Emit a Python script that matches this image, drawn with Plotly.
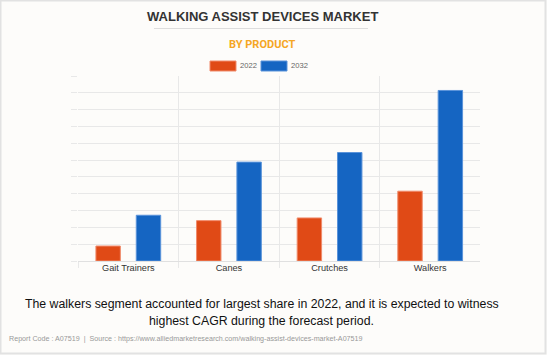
import plotly.graph_objects as go

categories = ["Gait Trainers", "Canes", "Crutches", "Walkers"]
years = ["2022", "2032"]
values_2022 = [89, 240, 256, 415]
values_2032 = [272, 588, 645, 1014]

colors = {"2022": "#E04A16", "2032": "#1565C2"}
borders = {"2022": "#F08A6A", "2032": "#5A93DA"}

W, H = 547, 355
ml, mr, mt, mb = 78, 67, 76, 94
pw, ph = W - ml - mr, H - mt - mb

def px(x):
    return (x - ml) / pw

def py(y):
    return (H - mb - y) / ph

fig = go.Figure()
for yr, vals in zip(years, [values_2022, values_2032]):
    fig.add_trace(go.Bar(
        x=categories, y=vals, name=yr,
        marker=dict(color=colors[yr], line=dict(color=borders[yr], width=1)),
        showlegend=False,
    ))

grid = "#E8E8E8"
fig.update_layout(
    width=W, height=H,
    margin=dict(l=ml, r=mr, t=mt, b=mb),
    paper_bgcolor="#FDFCFA", plot_bgcolor="#FDFCFA",
    barmode="group", bargap=0.198, bargroupgap=0.395,
    font=dict(family="Arial, Liberation Sans, sans-serif", color="#333"),
    xaxis=dict(
        range=[-0.5, len(categories) - 0.505],
        tickson="boundaries", showgrid=True, gridcolor=grid, gridwidth=1,
        ticks="outside", ticklen=6, tickcolor=grid,
        tickfont=dict(size=9.2, color="#333"), showline=False, zeroline=False,
    ),
    yaxis=dict(
        range=[0, 1100], dtick=100, showgrid=True, gridcolor=grid, gridwidth=1,
        ticks="outside", ticklen=6, tickcolor=grid, showticklabels=False,
        zeroline=True, zerolinecolor="#E0E0E0", zerolinewidth=1, showline=False,
    ),
)

shapes = []
# outer border
shapes.append(dict(type="rect", xref="paper", yref="paper",
                   x0=px(0.5), x1=px(W - 1.5), y0=py(H - 1.5), y1=py(0.5),
                   line=dict(color="#E2E2E2", width=2), fillcolor="rgba(0,0,0,0)", layer="below"))
# title underline
shapes.append(dict(type="line", xref="paper", yref="paper",
                   x0=px(154), x1=px(368), y0=py(28.5), y1=py(28.5),
                   line=dict(color="#DDDDDD", width=1)))
# legend swatches
for yr, x0 in zip(years, [210, 261]):
    shapes.append(dict(type="rect", xref="paper", yref="paper",
                       x0=px(x0), x1=px(x0 + 26), y0=py(71), y1=py(61),
                       fillcolor=colors[yr], line=dict(color=borders[yr], width=1)))

annotations = [
    dict(text="<b>WALKING ASSIST DEVICES MARKET</b>", x=px(262), y=py(16.5),
         font=dict(size=13, color="#333333")),
    dict(text="<b>BY PRODUCT</b>", x=px(262), y=py(44.5),
         font=dict(size=11, color="#F5A623", family="Roboto, Arial, sans-serif")),
    dict(text="2022", x=px(237.5), y=py(65.5), xanchor="left",
         font=dict(size=7.6, color="#666666")),
    dict(text="2032", x=px(288.5), y=py(65.5), xanchor="left",
         font=dict(size=7.6, color="#666666")),
    dict(text="The walkers segment accounted for largest share in 2022, and it is expected to witness",
         x=px(261.5), y=py(304), font=dict(size=12.3, color="#111111")),
    dict(text="highest CAGR during the forecast period.",
         x=px(261.5), y=py(321), font=dict(size=12.3, color="#111111")),
    dict(text="Report Code : A07519  |  Source : https://www.alliedmarketresearch.com/walking-assist-devices-market-A07519",
         x=px(6.5), y=py(339), xanchor="left", font=dict(size=7.15, color="#999999")),
]
for a in annotations:
    a.setdefault("xanchor", "center")
    a.update(xref="paper", yref="paper", yanchor="middle", showarrow=False)

fig.update_layout(shapes=shapes, annotations=annotations)
fig.write_html("out.html", config={"displayModeBar": False},
               post_script="document.body.style.margin='0';")
